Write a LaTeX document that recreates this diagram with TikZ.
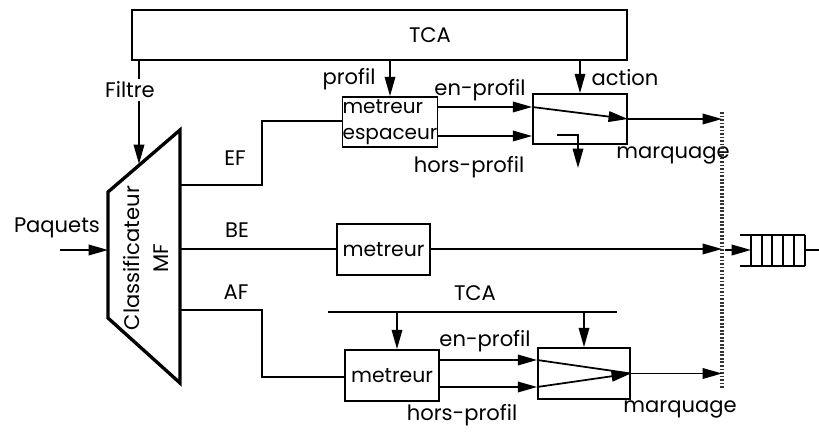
\documentclass[tikz,border=0pt]{standalone}
\usepackage{fontspec}
\setmainfont{Poppins}
\usepackage{tikz}
\usetikzlibrary{arrows.meta}

\tikzset{
  arr/.style={-{Triangle[length=11pt,width=6pt]}},
  blk/.style={draw,line width=1pt,minimum width=1.88cm,minimum height=1cm,inner sep=1pt,font=\fontsize{11.6}{14}\selectfont},
  lbl/.style={inner sep=1pt,font=\fontsize{12}{14}\selectfont}
}

\begin{document}
\begin{tikzpicture}[x=0.02cm,y=-0.02cm,line width=1pt,font=\fontsize{12}{14}\selectfont]
\useasboundingbox (0,0) rectangle (819,432);
% boxes
\node[draw,line width=1pt,minimum width=9.9cm,minimum height=1cm] (tca) at (379.5,35) {};
\node[lbl] (tcalbl) at (430,35) {TCA};
\node[blk,align=left,inner sep=0pt,font=\fontsize{11.4}{15}\selectfont] (me) at (390,122) {metreur\\espaceur};
\node[blk] (mq1) at (580,119) {};
\node[blk,minimum width=1.86cm,minimum height=1.02cm] (mb) at (383.5,249.5) {metreur};
\node[blk,minimum height=1.02cm] (ma) at (392,375.5) {metreur};
\node[blk,minimum width=1.84cm,minimum height=1.02cm] (mq2) at (584,373.5) {};
% classificateur
\coordinate (clt) at (108,192);
\coordinate (clb) at (108,318);
\coordinate (crt) at (180,130);
\coordinate (crb) at (180,383);
\draw[line width=1.9pt,line join=miter] (clt) -- (crt) -- (crb) -- (clb) -- cycle;
\node[lbl,rotate=90,align=center,font=\fontsize{12}{16}\selectfont] (cl) at (146,258) {Classificateur\\MF};
% filtre et paquets
\node[lbl,fill=white] (filtre) at (130,90) {Filtre};
\coordinate (f0) at (139,60);
\coordinate (f1) at (139,164);
\draw (f0) -- (filtre.north -| f0);
\draw[arr] (filtre.south -| f0) -- (f1);
\coordinate (p0) at (60,250);
\draw[arr] (p0) -- (p0 -| clt);
\node[lbl] (paquets) at (57,228) {Paquets};
% EF
\coordinate (ef0) at (180,185);
\coordinate (ef1) at (262,185);
\coordinate (ef2) at (262,121);
\draw (ef0) -- (ef1) -- (ef2) -- (ef2 -| me.west);
\node[lbl] (ef) at (235,158) {EF};
\coordinate (y1) at (0,107);
\coordinate (y2) at (0,136);
\draw[arr] (me.east |- y1) -- (mq1.west |- y1);
\draw[arr] (me.east |- y2) -- (mq1.west |- y2);
\draw[arr] (me.north |- tca.south) -- (me.north);
\draw[arr] (tca.south -| mq1.north) -- (mq1.north);
\draw[arr] (mq1.west |- y1) -- (mq1.east);
\coordinate (s0) at (557,135);
\coordinate (s1) at (578,135);
\coordinate (s2) at (578,168);
\draw[arr] (s0) -- (s1) -- (s2);
\node[lbl] (profil) at (349,79) {profil};
\node[lbl] (action) at (625,78) {action};
\node[lbl] (enp1) at (480,90) {en-profil};
\node[lbl] (hp1) at (469,167) {hors-profil};
\node[lbl] (marq1) at (673,155) {marquage};
% BE
\coordinate (be0) at (180,249);
\draw (be0) -- (be0 -| mb.west);
\node[lbl] (be) at (237,230) {BE};
% AF
\coordinate (af0) at (180,310);
\coordinate (af1) at (262,310);
\coordinate (af2) at (262,377);
\draw (af0) -- (af1) -- (af2) -- (af2 -| ma.west);
\node[lbl] (af) at (236,292) {AF};
\coordinate (t0) at (328,312);
\coordinate (t1) at (617,312);
\coordinate (t2) at (397,312);
\draw (t0) -- (t1);
\node[lbl] (tca2) at (475,293) {TCA};
\draw[arr] (t2) -- (t2 |- ma.north);
\draw[arr] (t0 -| mq2.north) -- (mq2.north);
\coordinate (y3) at (0,360);
\coordinate (y4) at (0,387);
\draw[arr] (ma.east |- y3) -- (mq2.west |- y3);
\draw[arr] (ma.east |- y4) -- (mq2.west |- y4);
\draw (mq2.west |- y3) -- (mq2.east);
\draw[arr] (mq2.west |- y4) -- (mq2.east);
\node[lbl] (enp2) at (485,341) {en-profil};
\node[lbl] (hp2) at (462,415) {hors-profil};
\node[lbl] (marq2) at (680,409) {marquage};
% sortie
\coordinate (d0) at (722,112);
\coordinate (d1) at (722,388);
\draw[line width=2pt,black!80,dash pattern=on 1pt off 1pt] (d0) -- (d1);
\draw[arr] (mq1.east) -- (mq1.east -| d0);
\draw[arr] (mb.east |- be0) -- (be0 -| d0);
\draw[arr] (mq2.east) -- (mq2.east -| d0);
% file
\coordinate (q0) at (740,235);
\coordinate (q1) at (805,266);
\draw (q0) -- (q0 -| q1);
\draw (q0 |- q1) -- (q1);
\foreach \x in {751,762,772,783,794,805}
  \draw (\x,235) -- (\x,266);
\draw[arr] (725,250) -- (751,250);
\draw (805,250) -- (819,250);
\end{tikzpicture}
\end{document}
